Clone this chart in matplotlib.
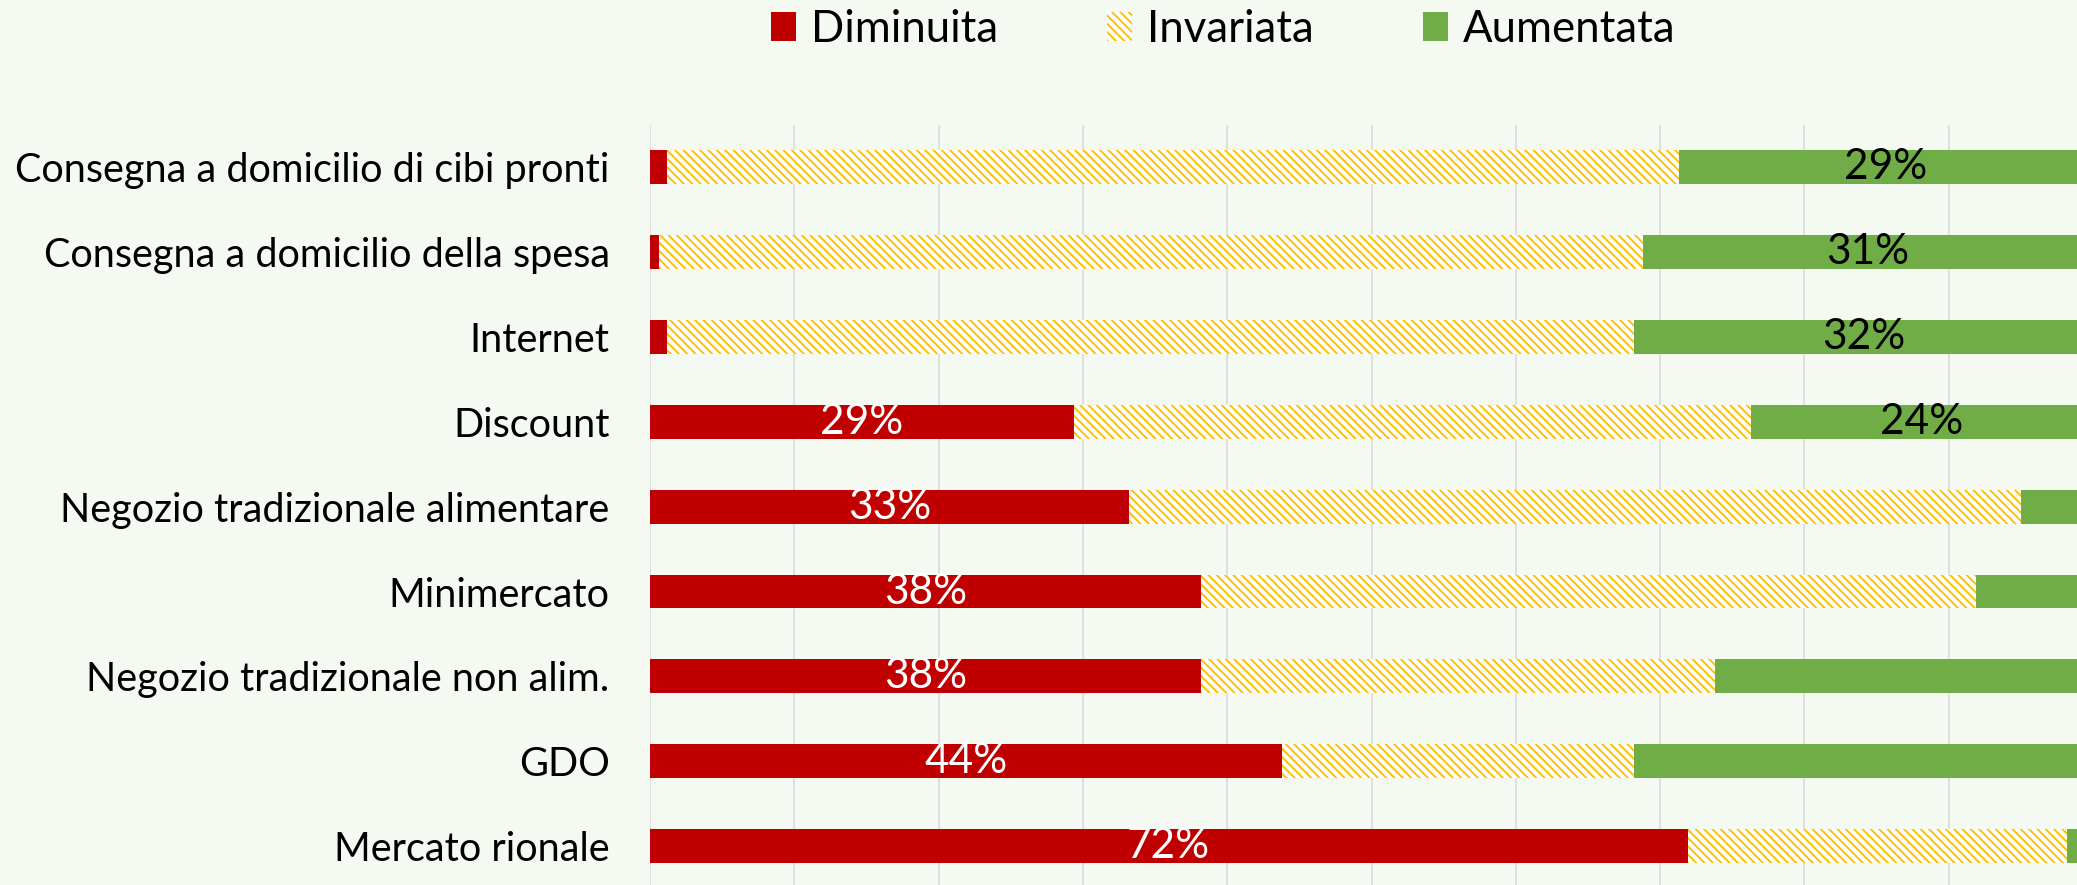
# Canali di acquisto: quota diminuita / invariata / aumentata
import numpy as np
import matplotlib.pyplot as plt

categories = ['Consegna a domicilio di cibi pronti', 'Consegna a domicilio della spesa',
              'Internet', 'Discount', 'Negozio tradizionale alimentare', 'Minimercato',
              'Negozio tradizionale non alim.', 'GDO', 'Mercato rionale']
diminuita = [1.2, 0.6, 1.2, 29.4, 33.2, 38.2, 38.2, 43.8, 71.9]
invariata = [70.1, 68.2, 67.0, 46.9, 61.8, 53.7, 35.6, 24.4, 26.3]
aumentata = [28.7, 31.2, 31.8, 23.7, 5.0, 8.1, 26.2, 31.8, 1.8]
lab_dim = ['', '', '', '29%', '33%', '38%', '38%', '44%', '72%']
lab_aum = ['29%', '31%', '32%', '24%', '', '', '', '', '']

bg = '#F4F9F1'
plt.rcParams['font.family'] = ['Lato', 'DejaVu Sans']
plt.rcParams['hatch.linewidth'] = 1.4

fig = plt.figure(figsize=(20.77, 8.85), dpi=100, facecolor=bg)
ax = fig.add_axes([650 / 2077, -0.004, 1443 / 2077, 0.863])
ax.set_facecolor(bg)

y = np.arange(len(categories))
dim = np.array(diminuita)
inv = np.array(invariata)
aum = np.array(aumentata)

b1 = ax.barh(y, dim, height=0.4, color='#C00000', label='Diminuita')
b2 = ax.barh(y, inv, left=dim, height=0.4, color='white', edgecolor='#FFC000',
             linewidth=0, hatch='\\\\\\\\', label='Invariata')
b3 = ax.barh(y, aum, left=dim + inv, height=0.4, color='#70AD47', label='Aumentata')

ax.bar_label(b1, labels=lab_dim, label_type='center', color='white', fontsize=30.5)
ax.bar_label(b3, labels=lab_aum, label_type='center', color='black', fontsize=30.5)

ax.set_xlim(0, 100)
ax.set_ylim(len(categories) - 0.5, -0.5)
ax.set_xticks(np.arange(0, 101, 10))
ax.xaxis.grid(True, color='#D9D9D9', linewidth=1.1)
ax.set_axisbelow(True)
ax.tick_params(axis='x', bottom=False, labelbottom=False)
ax.set_yticks(y)
ax.set_yticklabels(categories, fontsize=28.5)
ax.tick_params(axis='y', length=0, pad=29)
for s in ax.spines.values():
    s.set_visible(False)

fig.legend(handles=[b1, b2, b3], loc='center', bbox_to_anchor=(0.589, 0.967), ncol=3,
           frameon=False, fontsize=31.5, handlelength=0.56, handleheight=0.65,
           handletextpad=0.35, columnspacing=2.5)

fig.savefig('out.png', dpi=100, facecolor=bg)
